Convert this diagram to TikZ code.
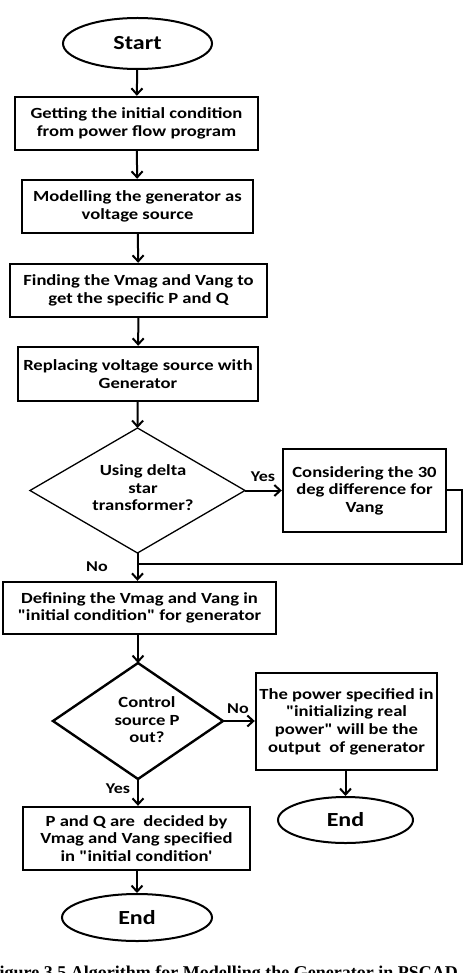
\documentclass[tikz,border=0pt]{standalone}
\usepackage{fontspec}
\setmainfont{Carlito}[FakeStretch=1.2,Ligatures=TeXOff]
\newfontfamily\capfont{Liberation Serif}
\newcommand\qq{"}
\usetikzlibrary{shapes.geometric,arrows.meta}
\begin{document}
\begin{tikzpicture}[x=1pt,y=-1pt,
  every node/.style={font=\bfseries\fontsize{15.5}{17.6}\selectfont,align=center,inner sep=0pt},
  box/.style={draw,line width=2.4pt,rectangle},
  term/.style={draw,line width=2pt,ellipse,font=\bfseries\fontsize{20}{22}\selectfont},
  arr/.style={line width=2pt,-{Straight Barb[length=6pt,width=11pt,line width=2pt]}},
  lbl/.style={font=\bfseries\fontsize{15}{17}\selectfont}]
\useasboundingbox (0,0) rectangle (465,973);
\node[term,minimum width=149pt,minimum height=51pt] (start) at (137.5,43.5) {Start};
\node[box,minimum width=243pt,minimum height=53pt] (b1) at (136.5,123.5) {Getting the initial condition\\from power flow program};
\node[box,minimum width=231pt,minimum height=53pt] (b2) at (137.5,206.5) {Modelling the generator as\\voltage source};
\node[box,minimum width=257pt,minimum height=53pt] (b3) at (138.5,290.5) {Finding the Vmag and Vang to\\get the specific P and Q};
\node[box,minimum width=240pt,minimum height=54pt] (b4) at (138,374) {Replacing voltage source with\\Generator};
\draw[line width=1.3pt] (137.5,428) coordinate (d1t) -- (245,490.5) coordinate (d1r) -- (137.5,553) coordinate (d1b) -- (30,490.5) coordinate (d1l) -- cycle;
\node (d1) at (143,488) {Using delta\\star\\transformer?};
\node[box,minimum width=163pt,minimum height=83pt] (b5) at (364.5,490.5) {Considering the 30\\deg difference for\\Vang};
\node[box,minimum width=273pt,minimum height=52pt] (b6) at (139.5,608) {Defining the Vmag and Vang in\\\qq initial condition\qq{} for generator};
\draw[line width=2.4pt] (138,663) coordinate (d2t) -- (223,721) coordinate (d2r) -- (138,779) coordinate (d2b) -- (53,721) coordinate (d2l) -- cycle;
\node (d2) at (147,720) {Control\\source P\\out?};
\node[box,minimum width=181pt,minimum height=97pt] (b7) at (346.5,721.5) {The power specified in\\\qq initializing real\\power\qq{} will be the\\output~ of generator};
\node[term,minimum width=135pt,minimum height=46pt] (e2) at (345.5,820) {End};
\node[box,minimum width=227pt,minimum height=63pt] (b8) at (136.5,838.5) {P and Q are~ decided by\\Vmag and Vang specified\\in \qq initial condition'};
\node[term,minimum width=150pt,minimum height=47pt] (e1) at (137,917.5) {End};
\coordinate (fbA) at (462,490);
\coordinate (fbB) at (462,564);
\coordinate (fbC) at (138,564);
\draw[arr] (start) -- (b1);
\draw[arr] (b1) -- (b2);
\draw[arr] (b2) -- (b3);
\draw[arr] (b3) -- (b4);
\draw[arr] (b4) -- (d1t);
\draw[arr] (d1r) -- (b5);
\draw[arr] (d1b) -- (b6.north -| d1b);
\draw[line width=1.1pt] (b5.east |- fbA) -- (fbA) -- (fbB) -- (fbC);
\draw[arr] (b6.south -| d2t) -- (d2t);
\draw[arr] (d2r) -- (b7.west |- d2r);
\draw[arr] (b7.south -| e2) -- (e2);
\draw[arr] (d2b) -- (b8.north -| d2b);
\draw[arr] (b8.south -| e1) -- (e1);
\node[lbl] (yes1) at (263,477) {Yes};
\node[lbl] (no1) at (97,567) {No};
\node[lbl] (no2) at (238,709) {No};
\node[lbl] (yes2) at (118,789) {Yes};
\node[anchor=base east,font=\capfont\bfseries\fontsize{18}{20}\selectfont,inner sep=0pt] (cap) at (458,978.5) {Figure 3.5 Algorithm for Modelling the Generator in PSCAD};
\end{tikzpicture}
\end{document}
